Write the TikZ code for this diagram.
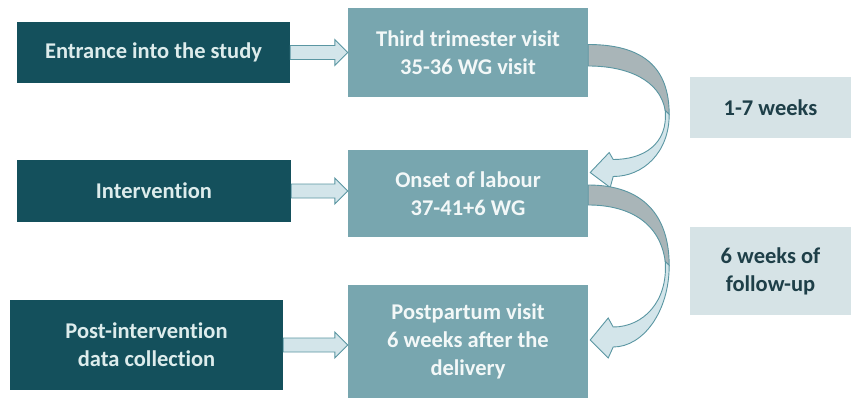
\documentclass[tikz,border=0pt]{standalone}
\usepackage{fontspec}
\setmainfont{Carlito}[Ligatures={NoCommon}]
\usetikzlibrary{calc}
\definecolor{darkteal}{HTML}{14505C}
\definecolor{darktext}{HTML}{DDECEC}
\definecolor{midteal}{HTML}{78A6AF}
\definecolor{midtext}{HTML}{F3F8F8}
\definecolor{palebox}{HTML}{D6E3E6}
\definecolor{notetext}{HTML}{1E3F48}
\definecolor{arrowfill}{HTML}{D3E5EA}
\definecolor{arrowline}{HTML}{5A96A2}
\definecolor{backgrey}{HTML}{A9B5B8}
\begin{document}
\begin{tikzpicture}[x=1pt,y=-1pt,
  base/.style={inner sep=0pt, align=center, font=\fontsize{22.5}{28}\selectfont\bfseries},
  darkbox/.style={base, fill=darkteal, text=darktext},
  midbox/.style={base, fill=midteal, text=midtext, minimum width=240pt},
  notebox/.style={base, fill=palebox, text=notetext, minimum width=161pt},
  blk/.style={fill=arrowfill, draw=arrowline, line width=0.9pt, line join=miter},
  back/.style={fill=backgrey, draw=arrowline, line width=0.9pt},
]
\useasboundingbox (0,0) rectangle (851,401);

% left column: study phases
\node[darkbox, minimum width=273pt, minimum height=61pt] (entr) at (153.5,52.5) {Entrance into the study};
\node[darkbox, minimum width=274pt, minimum height=62pt] (intv) at (154,191) {Intervention};
\node[darkbox, minimum width=273pt, minimum height=90pt] (post) at (146.5,345) {Post-intervention\\data collection};

% middle column: visits
\node[midbox, minimum height=89pt] (third) at (468,52.5) {Third trimester visit\\35-36 WG visit};
\node[midbox, minimum height=87pt] (onset) at (468,193.5) {Onset of labour\\37-41+6 WG};
\node[midbox, minimum height=113pt] (pp) at (468,341.5) {Postpartum visit\\6 weeks after the\\delivery};

% right column: durations
\node[notebox, minimum height=61pt] (d1) at (770.5,107.5) {1-7 weeks};
\node[notebox, minimum height=88pt] (d2) at (770.5,271) {6 weeks of\\follow-up};

% straight block arrows
\foreach \a/\b in {entr/third, intv/onset, post/pp}{
  \draw[blk] ($(\a.east)+(0,-7)$) -- ($(\b.west|-\a.east)+(-13,-7)$)
    -- ($(\b.west|-\a.east)+(-13,-13)$) -- (\b.west|-\a.east)
    -- ($(\b.west|-\a.east)+(-13,13)$) -- ($(\b.west|-\a.east)+(-13,7)$)
    -- ($(\a.east)+(0,7)$) -- cycle;
}

% curved ribbon arrow: third trimester -> onset of labour
\begin{scope}[shift={(third.east)}]
  \draw[back] (0,-8) .. controls (55,-8) and (81,15) .. (81,62) -- (77,58)
    .. controls (72,28) and (40,13.5) .. (0,13.5) -- cycle;
  \draw[blk] (81,62) .. controls (81,100) and (55,124) .. (25,124)
    -- (22,135) -- (2,120) -- (21,100) -- (25,107)
    .. controls (55,107) and (80,92) .. (77,58) -- cycle;
\end{scope}

% curved ribbon arrow: onset of labour -> postpartum visit
\begin{scope}[shift={(onset.east)}]
  \draw[back] (0,-8.5) .. controls (55,-8.5) and (81,22) .. (81,72) -- (77,68)
    .. controls (72,30) and (42,11.5) .. (0,11.5) -- cycle;
  \draw[blk] (81,72) .. controls (81,118) and (55,153.5) .. (25,153.5)
    -- (20,164.5) -- (2,146.5) -- (20,124.5) -- (25,133.5)
    .. controls (55,133.5) and (80,108) .. (77,68) -- cycle;
\end{scope}
\end{tikzpicture}
\end{document}
